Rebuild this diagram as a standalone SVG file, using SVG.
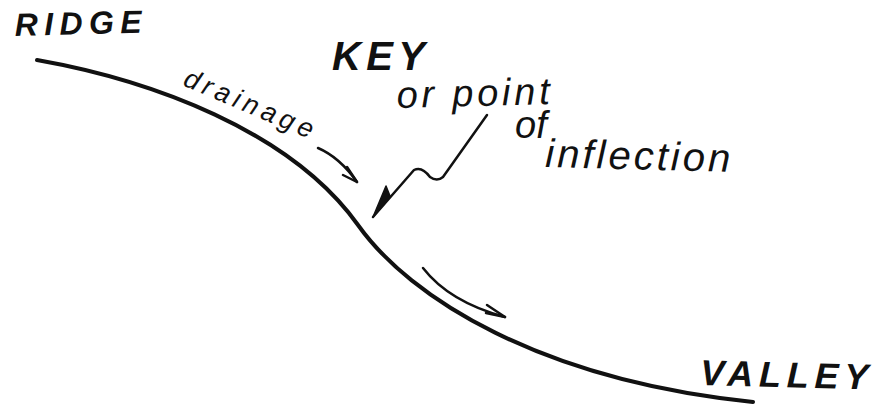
<svg xmlns="http://www.w3.org/2000/svg" width="874" height="407" viewBox="0 0 874 407">
<style>
.t{font-family:"Liberation Sans",Arial,sans-serif;font-style:italic;fill:#111}
.cap{font-weight:bold}
.ln{fill:none;stroke:#111;stroke-linecap:round;stroke-linejoin:round}
</style>
<rect width="874" height="407" fill="#fff"/>
<g id="slope">
<path class="ln" stroke-width="4" d="M37,60 C150,80 290,130 358,225 C410,298 540,380 753,402"/>
</g>
<g id="connectors">
<path class="ln" stroke-width="2.5" d="M318,148 C332,154 345,165 357,182"/>
<path class="ln" stroke-width="2.5" d="M347,167 L357,182 L343,175"/>
<path class="ln" stroke-width="2.5" d="M487,115 L443,177 Q437,182 430,177 Q422,166 414,170 L373,217"/>
<path fill="#111" stroke="#111" stroke-width="1.5" stroke-linejoin="round" d="M373,217 L386,186 L390,196 Z"/>
<path class="ln" stroke-width="2.5" d="M423,268 C440,290 468,307 505,317"/>
<path class="ln" stroke-width="2.5" d="M487,305 L505,317 L486,313"/>
</g>
<g id="labels">
<text class="t cap" x="15" y="36" font-size="32" textLength="127" transform="rotate(-1.5 15 36)">RIDGE</text>
<text class="t cap" x="332" y="70" font-size="40" textLength="93">KEY</text>
<text class="t" x="397" y="108" font-size="38" textLength="153" transform="rotate(-1.5 397 108)">or point</text>
<text class="t" x="515" y="138" font-size="38">of</text>
<text class="t" x="545" y="167" font-size="40" textLength="185" transform="rotate(1.5 545 167)">inflection</text>
<text class="t" x="182" y="85" font-size="27" textLength="138" transform="rotate(23 182 85)">drainage</text>
<text class="t cap" x="700" y="385" font-size="36" textLength="168" transform="rotate(1.5 700 385)">VALLEY</text>
</g>
</svg>
